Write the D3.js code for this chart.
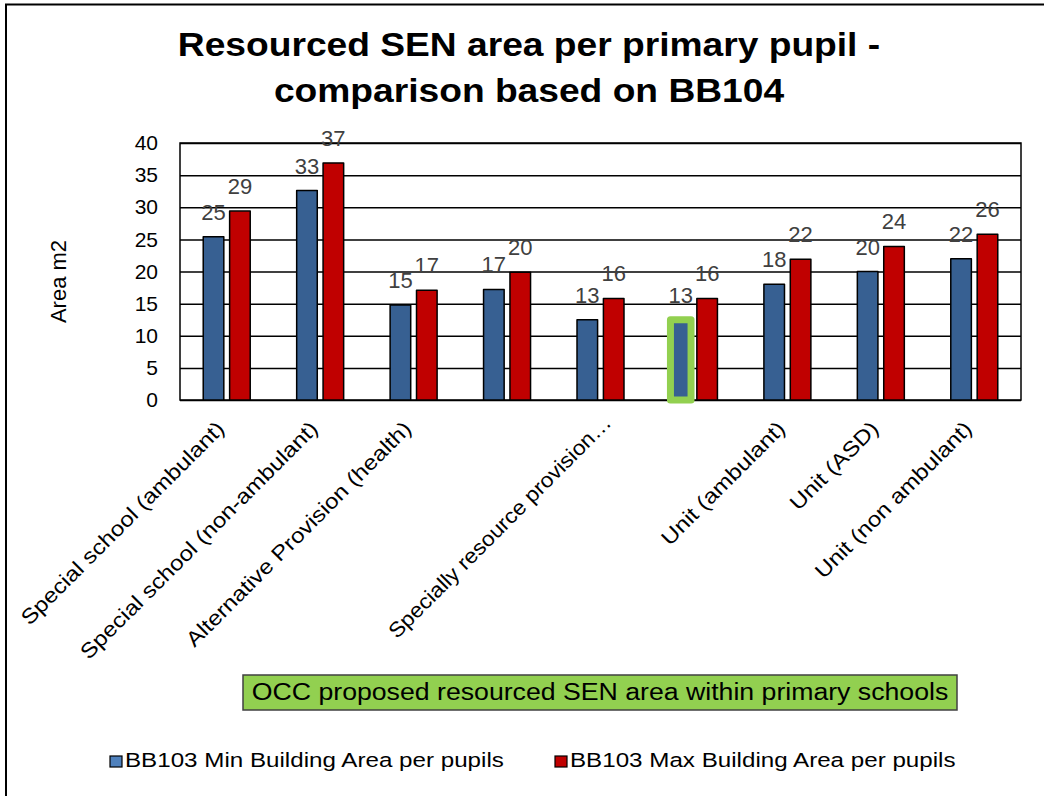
<!DOCTYPE html>
<html>
<head>
<meta charset="utf-8">
<script src="https://cdn.jsdelivr.net/npm/d3@7"></script>
<style>
  body { margin: 0; background: #fff; }
  svg { display: block; font-family: "Liberation Sans", Arial, sans-serif; }
</style>
</head>
<body>
<svg id="chart" width="1044" height="796"></svg>
<script>
// chart data
var categories = ["Special school (ambulant)", "Special school (non-ambulant)", "Alternative Provision (health)", "",
    "Specially resource provision\u2026", "", "Unit (ambulant)", "Unit (ASD)", "Unit (non ambulant)"];
var minArea = [25.4, 32.6, 14.8, 17.2, 12.5, 12.5, 18.0, 20.0, 22.0];
var maxArea = [29.4, 36.9, 17.1, 19.9, 15.8, 15.8, 21.9, 23.9, 25.8];
var seriesNames = ["BB103 Min Building Area per pupils", "BB103 Max Building Area per pupils"];
var yTicks = [0, 5, 10, 15, 20, 25, 30, 35, 40];
var highlightIndex = 5; // the OCC proposed bar
var titleLines = ["Resourced SEN area per primary pupil -", "comparison based on BB104"];
var yTitle = "Area m2";
var noteText = "OCC proposed resourced SEN area within primary schools";

var barColors = ["#376092", "#C00000"];
var legendColors = ["#4F81BD", "#C00000"];

var svg = d3.select("#chart");
// note: "top" is taken by window.top, so plot edges get their own names
var plotLeft = 180, plotRight = 1021, plotTop = 143, plotBottom = 400;

// outer frame
svg.append("rect")
    .attr("x", 6).attr("y", 4.5)
    .attr("width", 1100).attr("height", 900)
    .attr("fill", "none").attr("stroke", "#000").attr("stroke-width", 2);

// title
svg.selectAll(".title")
    .data(titleLines)
    .enter()
    .append("text")
    .attr("class", "title")
    .attr("transform", function (d, i) { return "translate(529," + (56 + i * 46) + ") scale(1.11,1)"; })
    .attr("text-anchor", "middle")
    .attr("font-size", 33.5)
    .attr("font-weight", "bold")
    .attr("fill", "#000")
    .text(function (d) { return d; });

var x0 = d3.scaleBand()
    .domain(d3.range(categories.length))
    .range([plotLeft, plotRight]);

var x1 = d3.scaleBand()
    .domain([0, 1])
    .range([0, x0.bandwidth()])
    .paddingInner(0.22)
    .paddingOuter(0.88);

var y = d3.scaleLinear()
    .domain([0, 40])
    .range([plotBottom, plotTop]);

// y axis + gridlines
var yAxis = svg.append("g")
    .attr("transform", "translate(" + plotLeft + ",0)")
    .call(d3.axisLeft(y).tickValues(yTicks).tickSize(-(plotRight - plotLeft)).tickPadding(22));
yAxis.select(".domain").remove();
yAxis.selectAll("line").attr("stroke", "#000").attr("stroke-width", 1.5);
yAxis.selectAll("text")
    .attr("font-size", 21)
    .attr("fill", "#000")
    .attr("font-family", "Liberation Sans, Arial, sans-serif");

// plot frame
svg.append("rect")
    .attr("x", plotLeft).attr("y", plotTop)
    .attr("width", plotRight - plotLeft).attr("height", plotBottom - plotTop)
    .attr("fill", "none").attr("stroke", "#000").attr("stroke-width", 1.5);

// y title
svg.append("text")
    .attr("transform", "translate(66," + ((plotTop + plotBottom) / 2 + 10) + ") rotate(-90)")
    .attr("text-anchor", "middle")
    .attr("font-size", 22)
    .attr("fill", "#000")
    .text(yTitle);

// bars
var rows = categories.map(function (c, i) { return { i: i, vals: [minArea[i], maxArea[i]] }; });

var groups = svg.append("g")
    .selectAll("g")
    .data(rows)
    .enter()
    .append("g")
    .attr("transform", function (d) { return "translate(" + x0(d.i) + ",0)"; });

groups.selectAll("rect")
    .data(function (d) { return d.vals.map(function (v, s) { return { i: d.i, s: s, v: v }; }); })
    .enter()
    .append("rect")
    .attr("x", function (d) { return x1(d.s); })
    .attr("y", function (d) { return y(d.v); })
    .attr("width", x1.bandwidth())
    .attr("height", function (d) { return plotBottom - y(d.v); })
    .attr("fill", function (d) { return barColors[d.s]; })
    .attr("stroke", function (d) { return d.i === highlightIndex && d.s === 0 ? "#92D050" : "#000"; })
    .attr("stroke-width", function (d) { return d.i === highlightIndex && d.s === 0 ? 7 : 1.5; })
    .attr("stroke-linejoin", "round");

groups.selectAll("text")
    .data(function (d) { return d.vals.map(function (v, s) { return { s: s, v: v }; }); })
    .enter()
    .append("text")
    .attr("x", function (d) { return x1(d.s) + x1.bandwidth() / 2; })
    .attr("y", function (d) { return y(d.v) - 17; })
    .attr("text-anchor", "middle")
    .attr("font-size", 22)
    .attr("fill", "#404040")
    .text(function (d) { return Math.round(d.v); });

// x axis labels (the truncated one sits a little further right, as excel draws it)
var xAxis = svg.append("g")
    .attr("transform", "translate(0," + plotBottom + ")")
    .call(d3.axisBottom(x0).tickSize(0).tickFormat(function (i) { return categories[i]; }));
xAxis.select(".domain").remove();
xAxis.selectAll("text")
    .attr("x", 0).attr("y", 0).attr("dy", 0)
    .attr("transform", function (i) {
        var cut = categories[i].slice(-1) === "\u2026";
        return "translate(" + (cut ? 12 : -1) + "," + (cut ? 24 : 30) + ") rotate(-45) scale(" + (cut ? 1.08 : 1.15) + ",1)";
    })
    .attr("text-anchor", "end")
    .attr("font-size", 21)
    .attr("fill", "#000")
    .attr("font-family", "Liberation Sans, Arial, sans-serif");

// note box
svg.append("rect")
    .attr("x", 243).attr("y", 675)
    .attr("width", 714).attr("height", 35)
    .attr("fill", "#92D050")
    .attr("stroke", "#404040").attr("stroke-width", 1.5);
svg.append("text")
    .attr("transform", "translate(600,700) scale(1.16,1)")
    .attr("text-anchor", "middle")
    .attr("font-size", 23)
    .attr("fill", "#000")
    .text(noteText);

// legend
var legendX = [110, 555];
var legend = svg.append("g")
    .selectAll("g")
    .data(seriesNames)
    .enter()
    .append("g")
    .attr("transform", function (d, i) { return "translate(" + legendX[i] + ",756)"; });
legend.append("rect")
    .attr("width", 12).attr("height", 11)
    .attr("fill", function (d, i) { return legendColors[i]; })
    .attr("stroke", "#000").attr("stroke-width", 1.2);
legend.append("text")
    .attr("transform", "translate(15,11) scale(1.24,1)")
    .attr("font-size", 19.5)
    .attr("fill", "#000")
    .text(function (d) { return d; });
</script>
</body>
</html>
